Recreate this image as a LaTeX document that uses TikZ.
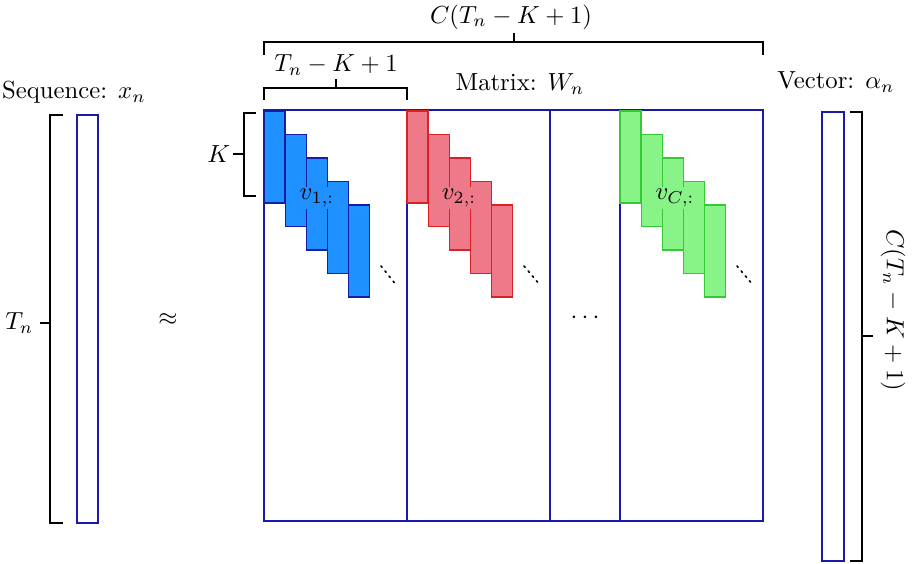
\documentclass[tikz,border=0pt]{standalone}
\definecolor{matblue}{RGB}{25,25,170}
\definecolor{bfill}{RGB}{30,144,255}
\definecolor{bdraw}{RGB}{20,30,165}
\definecolor{rfill}{RGB}{238,122,137}
\definecolor{rdraw}{RGB}{215,35,40}
\definecolor{gfill}{RGB}{136,244,136}
\definecolor{gdraw}{RGB}{55,200,55}
\tikzset{
  mcol/.style={draw=matblue, line width=0.55pt},
  brk/.style={draw=black, line width=0.55pt},
  bstrip/.style={fill=bfill, draw=bdraw, line width=0.5pt},
  rstrip/.style={fill=rfill, draw=rdraw, line width=0.5pt},
  gstrip/.style={fill=gfill, draw=gdraw, line width=0.5pt},
  dotsline/.style={dotted, line width=0.7pt, line cap=round},
  lbl/.style={inner sep=1pt},
  every node/.append style={scale=1.03}
}
\begin{document}
\begin{tikzpicture}[x=0.417pt,y=-0.417pt]
\useasboundingbox (0,0) rectangle (916,564);

% sequence
\draw[mcol] (77,115) rectangle (98,523);
\node (seq) at (74,92) {Sequence: $x_n$};
\coordinate (lt1) at (63,115); \coordinate (lt2) at (50,115);
\coordinate (lb1) at (63,523); \coordinate (lb2) at (50,523);
\coordinate (lm) at (50,323); \coordinate (lmt) at (40,323);
\draw[brk] (lt1) -- (lt2) -- (lb2) -- (lb1);
\draw[brk] (lm) -- (lmt);
\node[left, inner sep=2.5pt] (tn) at (lmt) {$T_n$};

\node (approx) at (168,320) {$\approx$};

% matrix columns
\draw[mcol] (264,110) rectangle (407,521);
\draw[mcol] (407,110) rectangle (550,521);
\draw[mcol] (550,110) rectangle (620,521);
\draw[mcol] (620,110) rectangle (763,521);
\node (mdots) at (585,318) {$\cdots$};
\node (mat) at (520,84) {Matrix: $W_n$};

% strips
\foreach \i in {0,...,4} {
  \draw[bstrip] ({264+21.1*\i},{111+23.5*\i}) rectangle ++(21,92);
  \draw[rstrip] ({407+21.1*\i},{111+23.5*\i}) rectangle ++(21,92);
  \draw[gstrip] ({620+21.1*\i},{111+23.5*\i}) rectangle ++(21,92);
}
\node[lbl, fill=bfill] (v1) at (317,198) {$v_{1,:}$};
\node[lbl, fill=rfill] (v2) at (459,198) {$v_{2,:}$};
\node[lbl, fill=gfill] (vc) at (675,198) {$v_{C,:}$};
\draw[dotsline] (381,266) -- (397,286);
\draw[dotsline] (524,266) -- (540,285);
\draw[dotsline] (737,266) -- (753,285);

% K bracket
\coordinate (k1) at (256,113); \coordinate (k2) at (244,113);
\coordinate (k3) at (244,196); \coordinate (k4) at (256,196);
\coordinate (km) at (244,154); \coordinate (kmt) at (233,154);
\draw[brk] (k1) -- (k2) -- (k3) -- (k4);
\draw[brk] (km) -- (kmt);
\node[left, inner sep=1pt] (klbl) at (kmt) {$K$};

% small top bracket
\coordinate (s1) at (264,100); \coordinate (s2) at (264,88);
\coordinate (s3) at (407,88); \coordinate (s4) at (407,100);
\coordinate (sm) at (336,88); \coordinate (smt) at (336,79);
\draw[brk] (s1) -- (s2) -- (s3) -- (s4);
\draw[brk] (sm) -- (smt);
\node (slbl) at (336,65) {$T_n-K+1$};

% big top bracket
\coordinate (b1) at (264,55); \coordinate (b2) at (264,42);
\coordinate (b3) at (763,42); \coordinate (b4) at (763,55);
\coordinate (bm) at (514,42); \coordinate (bmt) at (514,33);
\draw[brk] (b1) -- (b2) -- (b3) -- (b4);
\draw[brk] (bm) -- (bmt);
\node (blbl) at (511,17) {$C(T_n-K+1)$};

% vector
\draw[mcol] (822,112) rectangle (844,561);
\node (vec) at (836,82) {Vector: $\alpha_n$};
\coordinate (r1) at (850,112); \coordinate (r2) at (862,112);
\coordinate (r3) at (862,561); \coordinate (r4) at (850,561);
\coordinate (rm) at (862,336); \coordinate (rmt) at (873,336);
\draw[brk] (r1) -- (r2) -- (r3) -- (r4);
\draw[brk] (rm) -- (rmt);
\node[rotate=-90] (rlbl) at (893,310) {$C(T_n-K+1)$};
\end{tikzpicture}
\end{document}
